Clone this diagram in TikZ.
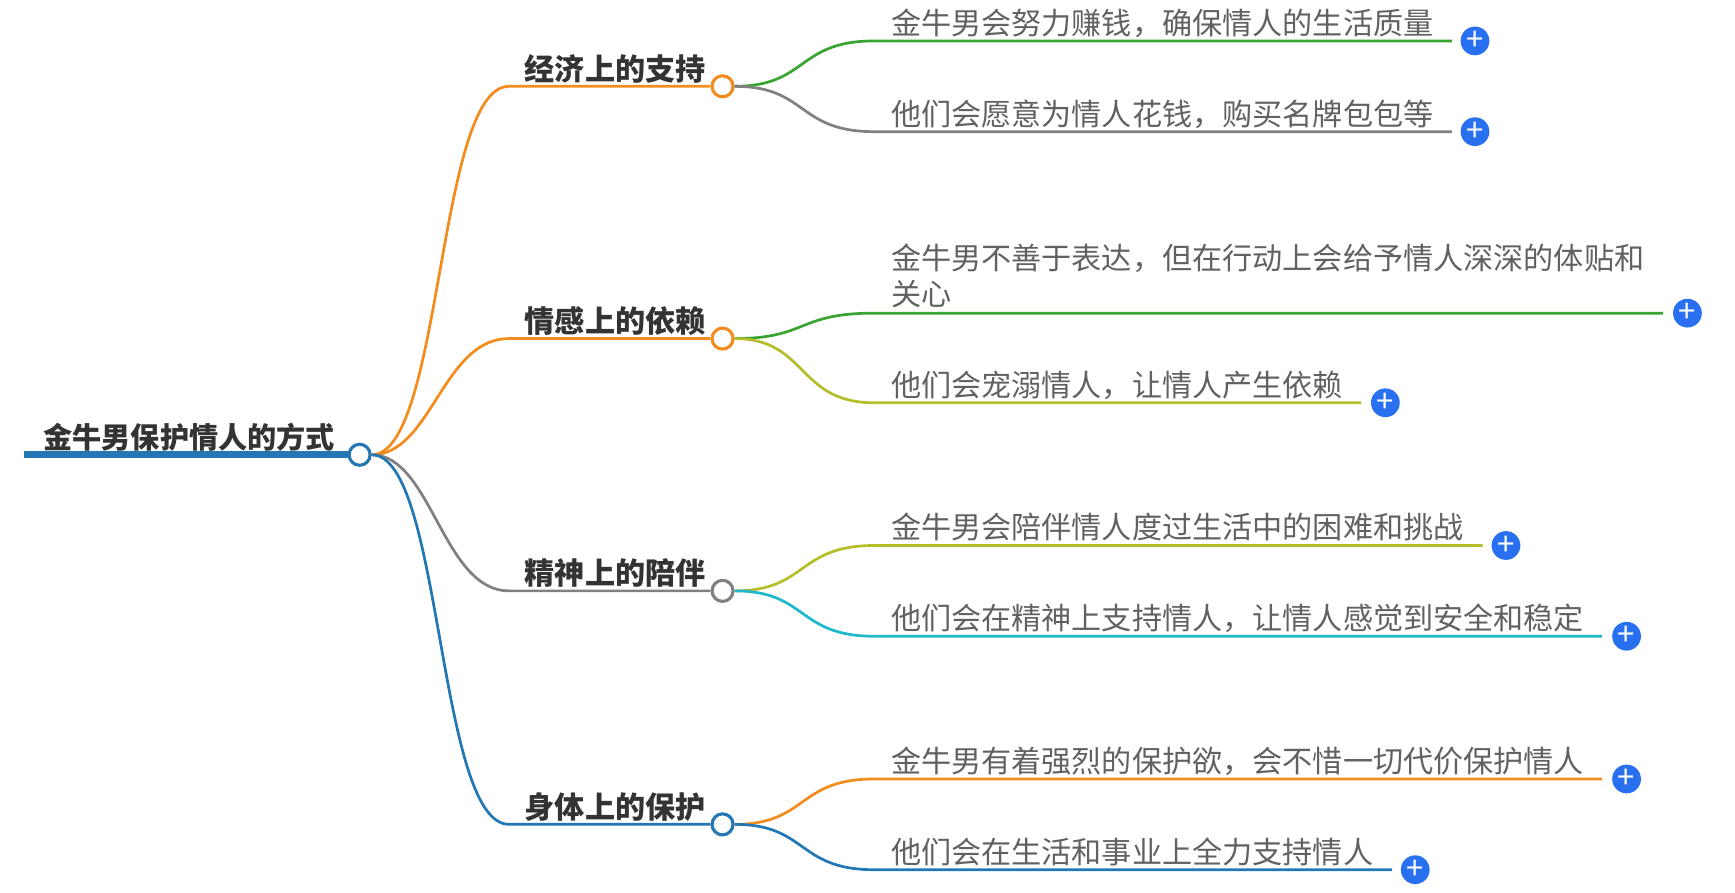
\documentclass[tikz,border=0pt]{standalone}
\usepackage{fontspec}
\setmainfont{Noto Sans CJK SC}
\usepackage{tikz}
\usetikzlibrary{calc}
\definecolor{corange}{HTML}{F28C1E}
\definecolor{cgray}{HTML}{808080}
\definecolor{cblue}{HTML}{2277B4}
\definecolor{cgreen}{HTML}{3AA433}
\definecolor{colive}{HTML}{B5BD2B}
\definecolor{ccyan}{HTML}{1FB8CC}
\definecolor{cplus}{HTML}{2970F0}
\tikzset{
  knob/.style={circle,draw=#1,fill=white,line width=1.6pt,inner sep=0pt,minimum size=0.38cm},
  plusbtn/.style={circle,fill=cplus,text=white,inner sep=0pt,minimum size=0.52cm,font=\fontsize{16}{16}\selectfont},
  branchtext/.style={font=\bfseries\fontsize{15.5}{17}\selectfont,text=black!80},
  leaftext/.style={anchor=base west,font=\fontsize{15.5}{18}\selectfont,text=black!62,inner sep=0pt}
}
\begin{document}
\begin{tikzpicture}[x=0.02cm,y=-0.02cm,line width=1.4pt]
  \useasboundingbox (0,0) rectangle (1568,807);
  % root
  \draw[cblue,line width=3.5pt] (22,411) -- (316,411);
  \node[branchtext,anchor=base west,inner sep=0pt,font=\bfseries\fontsize{15}{17}\selectfont] (root) at (38,405) {金牛男保护情人的方式};
  \node[knob=cblue] (r) at (325,411) {};
  % branches
  \node[knob=corange] (b1) at (653,78) {};
  \node[knob=corange] (b2) at (653,306) {};
  \node[knob=cgray] (b3) at (653,534) {};
  \node[knob=cblue] (b4) at (653,745) {};
  \draw[corange] (r.east) .. controls (400,411) and (395,78) .. (460,78) -- (b1.west);
  \draw[corange] (r.east) .. controls (390,411) and (400,306) .. (460,306) -- (b2.west);
  \draw[cgray] (r.east) .. controls (390,411) and (400,534) .. (460,534) -- (b3.west);
  \draw[cblue] (r.east) .. controls (400,411) and (395,745) .. (460,745) -- (b4.west);
  \node[branchtext] (t1) at (556,62) {经济上的支持};
  \node[branchtext] (t2) at (556,290) {情感上的依赖};
  \node[branchtext] (t3) at (556,518) {精神上的陪伴};
  \node[branchtext] (t4) at (556,729) {身体上的保护};
  % leaves
  \coordinate (e1) at (1312,37);
  \coordinate (e2) at (1312,119);
  \coordinate (e3) at (1503,283);
  \coordinate (e4) at (1230,364);
  \coordinate (e5) at (1340,493);
  \coordinate (e6) at (1448,575);
  \coordinate (e7) at (1448,704);
  \coordinate (e8) at (1258,786);
  \draw[cgreen] (b1.east) .. controls (730,78) and (720,37) .. (790,37) -- (e1);
  \draw[cgray] (b1.east) .. controls (730,78) and (720,119) .. (790,119) -- (e2);
  \draw[cgreen] (b2.east) .. controls (730,306) and (720,283) .. (790,283) -- (e3);
  \draw[colive] (b2.east) .. controls (730,306) and (720,364) .. (790,364) -- (e4);
  \draw[colive] (b3.east) .. controls (730,534) and (720,493) .. (790,493) -- (e5);
  \draw[ccyan] (b3.east) .. controls (730,534) and (720,575) .. (790,575) -- (e6);
  \draw[corange] (b4.east) .. controls (730,745) and (720,704) .. (790,704) -- (e7);
  \draw[cblue] (b4.east) .. controls (730,745) and (720,786) .. (790,786) -- (e8);
  \node[leaftext] (l1) at (804,31) {金牛男会努力赚钱，确保情人的生活质量};
  \node[leaftext] (l2) at (804,113) {他们会愿意为情人花钱，购买名牌包包等};
  \node[leaftext] (l3) at (804,244) {金牛男不善于表达，但在行动上会给予情人深深的体贴和};
  \node[leaftext] (l3b) at (804,276) {关心};
  \node[leaftext] (l4) at (804,358) {他们会宠溺情人，让情人产生依赖};
  \node[leaftext] (l5) at (804,487) {金牛男会陪伴情人度过生活中的困难和挑战};
  \node[leaftext] (l6) at (804,569) {他们会在精神上支持情人，让情人感觉到安全和稳定};
  \node[leaftext] (l7) at (804,698) {金牛男有着强烈的保护欲，会不惜一切代价保护情人};
  \node[leaftext] (l8) at (804,780) {他们会在生活和事业上全力支持情人};
  % plus buttons
  \node[plusbtn] (p1) at (1333,37) {+};
  \node[plusbtn] (p2) at (1333,119) {+};
  \node[plusbtn] (p3) at (1525,283) {+};
  \node[plusbtn] (p4) at (1252,364) {+};
  \node[plusbtn] (p5) at (1361,493) {+};
  \node[plusbtn] (p6) at (1470,575) {+};
  \node[plusbtn] (p7) at (1470,704) {+};
  \node[plusbtn] (p8) at (1279,786) {+};
\end{tikzpicture}
\end{document}
